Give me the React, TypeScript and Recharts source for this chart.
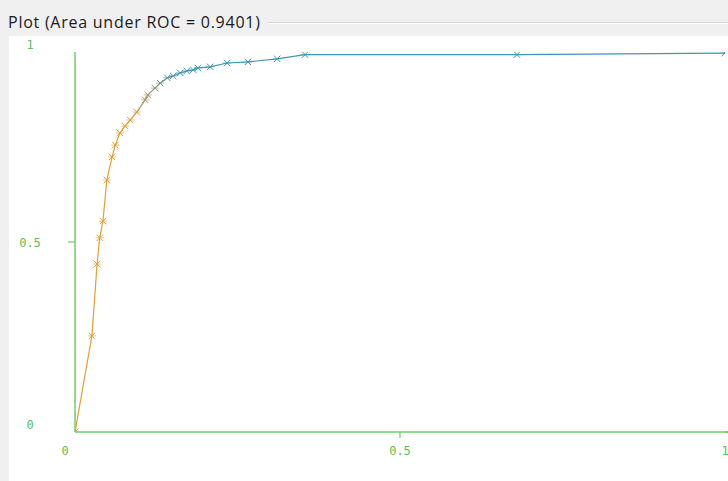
import React from "react";
import { LineChart, Line, XAxis, YAxis } from "recharts";

const titleText = "Plot (Area under ROC = 0.9401)";
const axisTicks = [0, 0.5, 1];
const tickLabels = ["0", "0.5", "1"];

// False positive rate (x) and true positive rate (y)
const fpr = [
  0, 0.026, 0.034, 0.038, 0.043, 0.049, 0.057, 0.062, 0.069, 0.077, 0.085,
  0.095, 0.108, 0.112, 0.123, 0.131, 0.142, 0.151, 0.162, 0.172, 0.182,
  0.189, 0.208, 0.234, 0.266, 0.311, 0.354, 0.68, 1,
];
const tpr = [
  0, 0.253, 0.442, 0.511, 0.555, 0.663, 0.724, 0.755, 0.787, 0.805, 0.821,
  0.842, 0.874, 0.887, 0.905, 0.918, 0.932, 0.937, 0.945, 0.95, 0.953,
  0.958, 0.961, 0.971, 0.974, 0.982, 0.993, 0.993, 0.997,
];

const data = fpr.map((x, i) => ({ fpr: x, tpr: tpr[i] }));

const GREEN_AXIS = "#6ccf6c";
const GREEN_TEXT = "#55c455";
const ORANGE: [number, number, number] = [224, 160, 50];
const GRAY: [number, number, number] = [150, 150, 120];
const TEAL: [number, number, number] = [62, 150, 178];

function mix(a: number[], b: number[], t: number) {
  const c = a.map((v, i) => Math.round(v + (b[i] - v) * t));
  return `rgb(${c[0]},${c[1]},${c[2]})`;
}

function colorFor(y: number) {
  if (y <= 0.82) return mix(ORANGE, ORANGE, 0);
  if (y <= 0.9) return mix(ORANGE, GRAY, (y - 0.82) / 0.08);
  if (y <= 0.95) return mix(GRAY, TEAL, (y - 0.9) / 0.05);
  return mix(TEAL, TEAL, 0);
}

const CrossDot = (props: any) => {
  const { cx, cy, payload } = props;
  if (cx == null || cy == null) return null;
  const c = colorFor(payload.tpr);
  const s = 3.2;
  return (
    <g>
      <line x1={cx - s} y1={cy - s} x2={cx + s} y2={cy + s} stroke={c} strokeWidth={1} />
      <line x1={cx - s} y1={cy + s} x2={cx + s} y2={cy - s} stroke={c} strokeWidth={1} />
      <line x1={cx - s - 1} y1={cy} x2={cx + s + 1} y2={cy} stroke={c} strokeWidth={0.6} />
    </g>
  );
};

const XTick = (props: any) => {
  const { x, y, payload } = props;
  const v = payload.value;
  const idx = axisTicks.indexOf(v);
  const label = tickLabels[idx] ?? String(v);
  const dx = v === 0 ? -10 : 0;
  return (
    <g>
      {v === 0.5 && <line x1={x} y1={y - 8} x2={x} y2={y - 2} stroke={GREEN_AXIS} strokeWidth={1.2} />}
      <text
        x={x + dx}
        y={y + 15}
        textAnchor="middle"
        fill={GREEN_TEXT}
        fontFamily="DejaVu Sans Mono, monospace"
        fontSize={12}
      >
        {label}
      </text>
    </g>
  );
};

const YTick = (props: any) => {
  const { y, payload } = props;
  const v = payload.value;
  const idx = axisTicks.indexOf(v);
  const label = tickLabels[idx] ?? String(v);
  const dy = v === 1 ? -3 : v === 0 ? -3 : 5;
  return (
    <g>
      {v === 0.5 && <line x1={68} y1={y} x2={75} y2={y} stroke={GREEN_AXIS} strokeWidth={1.2} />}
      <text
        x={30}
        y={y + dy}
        textAnchor="middle"
        fill={GREEN_TEXT}
        fontFamily="DejaVu Sans Mono, monospace"
        fontSize={12}
      >
        {label}
      </text>
    </g>
  );
};

export default function App() {
  return (
    <div
      style={{
        position: "absolute",
        left: 0,
        top: 0,
        width: 728,
        height: 481,
        background: "#f0f0f0",
        overflow: "hidden",
      }}
    >
      <div
        style={{
          position: "absolute",
          left: 9,
          top: 36,
          width: 719,
          height: 445,
          background: "#ffffff",
        }}
      />
      <div
        style={{
          position: "absolute",
          left: 268,
          top: 22,
          width: 460,
          height: 1,
          background: "#d4d4d4",
          borderBottom: "1px solid #ffffff",
        }}
      />
      <div
        style={{
          position: "absolute",
          left: 8,
          top: 11,
          fontFamily: "'Open Sans', sans-serif",
          fontSize: 16,
          letterSpacing: 0.75,
          color: "#1a1a1a",
          whiteSpace: "nowrap",
        }}
      >
        {titleText}
      </div>
      <div
        style={{
          position: "absolute",
          left: 725,
          top: 431,
          width: 3,
          height: 1.5,
          background: GREEN_AXIS,
        }}
      />
      <LineChart
        width={728}
        height={481}
        data={data}
        margin={{ top: 52, right: 3, bottom: 19, left: 0 }}
        style={{ position: "absolute", left: 0, top: 0 }}
      >
        <defs>
          <linearGradient id="rocGrad" x1="0" y1="1" x2="0" y2="0">
            <stop offset="0" stopColor="rgb(224,160,50)" />
            <stop offset="0.82" stopColor="rgb(224,160,50)" />
            <stop offset="0.9" stopColor="rgb(150,150,120)" />
            <stop offset="0.95" stopColor="rgb(62,150,178)" />
            <stop offset="1" stopColor="rgb(62,150,178)" />
          </linearGradient>
        </defs>
        <XAxis
          dataKey="fpr"
          type="number"
          domain={[0, 1]}
          ticks={axisTicks}
          height={30}
          axisLine={{ stroke: GREEN_AXIS, strokeWidth: 1.5 }}
          tickLine={false}
          tick={<XTick />}
          interval={0}
          allowDataOverflow
        />
        <YAxis
          dataKey="tpr"
          type="number"
          domain={[0, 1]}
          ticks={axisTicks}
          width={75}
          axisLine={{ stroke: GREEN_AXIS, strokeWidth: 1.5 }}
          tickLine={false}
          tick={<YTick />}
          interval={0}
          allowDataOverflow
        />
        <Line
          type="linear"
          dataKey="tpr"
          stroke="url(#rocGrad)"
          strokeWidth={1.2}
          dot={<CrossDot />}
          activeDot={false}
          isAnimationActive={false}
        />
      </LineChart>
    </div>
  );
}
